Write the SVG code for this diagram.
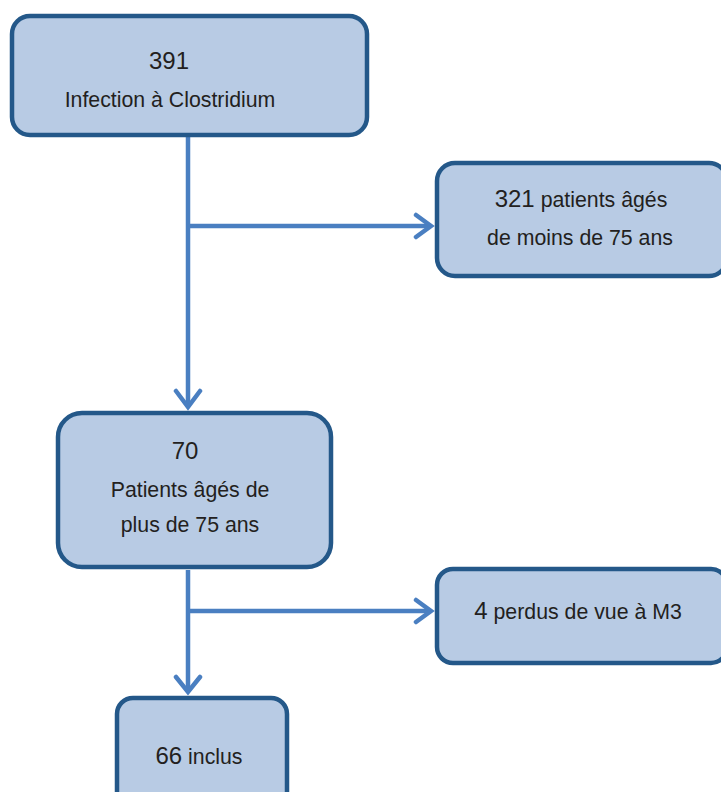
<svg xmlns="http://www.w3.org/2000/svg" width="721" height="792" viewBox="0 0 721 792">
<style>
.box{fill:#b8cbe4;stroke:#245889;stroke-width:4.5}
.t{font-family:"Liberation Sans",Arial,sans-serif;fill:#231f20;text-anchor:middle;font-size:21.3px}
.n{font-size:24px}
.c{fill:none;stroke:#4a7fc1;stroke-width:4.5}
</style>
<rect width="721" height="792" fill="#fff"/>
<g id="connectors">
<path class="c" d="M188 137V407M188 226H431M188 570V692M188 611H431"/>
<path class="c" stroke-linecap="round" d="M176 391L188 407L200 391M176 677L188 692L200 677M416 215L431 226L416 237M416 600L431 611L416 622"/>
</g>
<g id="n1">
<rect class="box" x="12" y="16" width="355" height="119" rx="18"/>
<text class="t n" x="169" y="69">391</text>
<text class="t" x="170" y="107">Infection à Clostridium</text>
</g>
<g id="n2">
<rect class="box" x="437" y="163" width="290" height="113" rx="18"/>
<text class="t" x="581" y="207"><tspan class="n">321</tspan> patients âgés</text>
<text class="t" x="580" y="245">de moins de 75 ans</text>
</g>
<g id="n3">
<rect class="box" x="58" y="413" width="273" height="154" rx="24"/>
<text class="t n" x="185" y="459">70</text>
<text class="t" x="190" y="497">Patients âgés de</text>
<text class="t" x="190" y="532">plus de 75 ans</text>
</g>
<g id="n4">
<rect class="box" x="437" y="569" width="290" height="94" rx="16"/>
<text class="t" x="578" y="619"><tspan class="n">4</tspan> perdus de vue à M3</text>
</g>
<g id="n5">
<rect class="box" x="117" y="698" width="170" height="110" rx="16"/>
<text class="t" x="199" y="764"><tspan class="n">66</tspan> inclus</text>
</g>
</svg>
